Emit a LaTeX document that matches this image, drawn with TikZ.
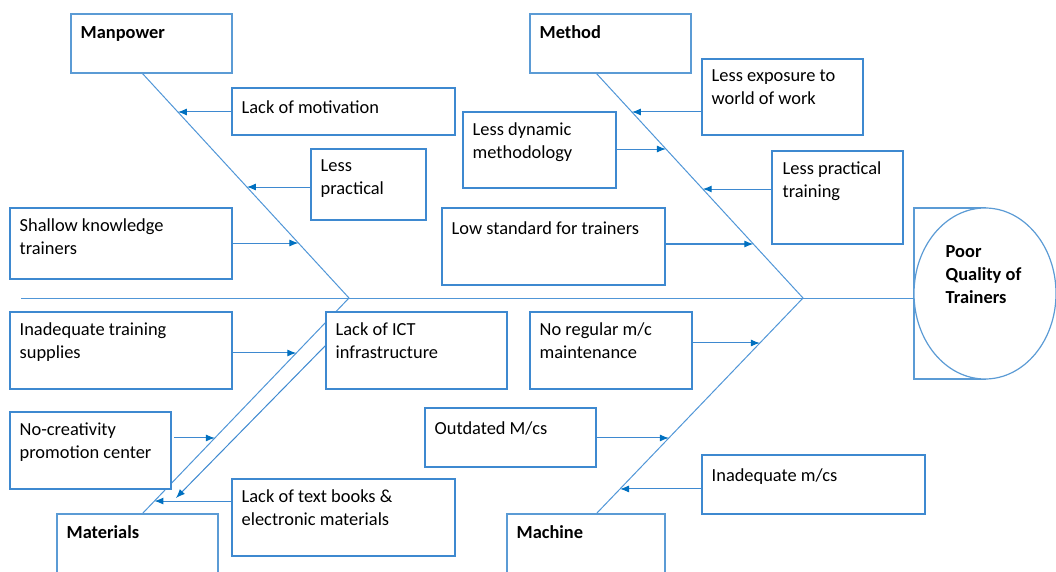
\documentclass[tikz,border=0pt]{standalone}
\usepackage{fontspec}
\setmainfont{Carlito}
\usetikzlibrary{arrows.meta,calc,shapes.geometric}
\definecolor{boxblue}{RGB}{91,155,213}
\definecolor{causeblue}{RGB}{62,137,208}
\definecolor{boneblue}{RGB}{80,150,215}
\definecolor{tipblue}{RGB}{0,112,192}

\begin{document}
\begin{tikzpicture}[x=1pt,y=-1pt,
  catbox/.style={draw=boxblue,line width=1.2pt,fill=white,rectangle,inner sep=0pt,outer sep=0pt,anchor=north west},
  causebox/.style={catbox,draw=causeblue},
  lbl/.style={anchor=north west,inner sep=0pt,align=left,font=\fontsize{18.4}{23}\selectfont,execute at begin node=\strut},
  catlbl/.style={lbl,font=\fontsize{18.4}{23}\selectfont\bfseries},
  bone/.style={draw=boneblue,line width=1pt},
  arr/.style={draw=causeblue,line width=1pt,-{Latex[length=9pt,width=7pt,color=tipblue]}},
]
\path[use as bounding box] (0,0) rectangle (1056,572);
\clip (0,0) rectangle (1056,572);

% skeleton: spine and the four category bones
\coordinate (spL) at (21,298);
\coordinate (mpA) at (142,73);
\coordinate (J1)  at (349,298);
\coordinate (matB) at (142,514);
\coordinate (mtA) at (596,73);
\coordinate (J2)  at (803,298);
\coordinate (mcB) at (596,514);

% head of the fish
\node[catbox,minimum width=71pt,minimum height=171pt] (headbox) at (914,208) {};
\draw[bone] (spL) -- (spL -| headbox.west);
\node[draw=boxblue,line width=1.2pt,fill=white,ellipse,inner sep=0pt,minimum width=142pt,minimum height=171pt] (head) at (985,293.5) {};
\node[catlbl] (headT) at (945.5,245) {Poor\\Quality of\\Trainers};

\draw[bone] (mpA) -- (J1) -- (matB);
\draw[bone] (mtA) -- (J2) -- (mcB);

% category boxes
\node[catbox,minimum width=161pt,minimum height=59pt] (manpower) at (71,14) {};
\node[catbox,minimum width=161pt,minimum height=90pt] (materials) at (57,514) {};
\node[catbox,minimum width=161pt,minimum height=59pt] (method) at (530,14) {};
\node[catbox,minimum width=158pt,minimum height=90pt] (machine) at (507,514) {};
\node[catlbl] (manpowerT) at ([shift={(9.5,8.2)}]manpower.north west) {Manpower};
\node[catlbl] (materialsT) at ([shift={(9.5,8.2)}]materials.north west) {Materials};
\node[catlbl] (methodT) at ([shift={(9.5,8.2)}]method.north west) {Method};
\node[catlbl] (machineT) at ([shift={(9.5,8.2)}]machine.north west) {Machine};

% cause boxes
\node[causebox,minimum width=223pt,minimum height=47pt] (motivation) at (232,88) {};
\node[causebox,minimum width=115pt,minimum height=71pt] (lesspract) at (311,149) {};
\node[causebox,minimum width=222pt,minimum height=71pt] (shallow) at (10,208) {};
\node[causebox,minimum width=222pt,minimum height=77pt] (supplies) at (10,312) {};
\node[causebox,minimum width=161pt,minimum height=77pt] (creativity) at (10,412) {};
\node[causebox,minimum width=223pt,minimum height=77pt] (textbooks) at (232,479) {};
\node[causebox,minimum width=181pt,minimum height=77pt] (ict) at (326,312) {};
\node[causebox,minimum width=161pt,minimum height=76pt] (exposure) at (702,59) {};
\node[causebox,minimum width=153pt,minimum height=76pt] (dynamic) at (463,112) {};
\node[causebox,minimum width=131pt,minimum height=93pt] (lptraining) at (772,151) {};
\node[causebox,minimum width=223pt,minimum height=77pt] (lowstd) at (442,208) {};
\node[causebox,minimum width=162pt,minimum height=77pt] (maint) at (530,312) {};
\node[causebox,minimum width=171pt,minimum height=59pt] (outdated) at (425,408) {};
\node[causebox,minimum width=223pt,minimum height=59pt] (inadequate) at (702,455) {};

\node[lbl] (motivationT) at ([shift={(9.5,9.4)}]motivation.north west) {Lack of motivation};
\node[lbl] (lesspractT) at ([shift={(9.5,10.4)}]lesspract.north west) {Less\\practical};
\node[lbl] (shallowT) at ([shift={(9.5,10.4)}]shallow.north west) {Shallow knowledge\\trainers};
\node[lbl] (suppliesT) at ([shift={(9.5,10.4)}]supplies.north west) {Inadequate training\\supplies};
\node[lbl] (creativityT) at ([shift={(9.5,10.4)}]creativity.north west) {No-creativity\\promotion center};
\node[lbl] (textbooksT) at ([shift={(9.5,10.4)}]textbooks.north west) {Lack of text books \&\\electronic materials};
\node[lbl] (ictT) at ([shift={(9.5,10.4)}]ict.north west) {Lack of ICT\\infrastructure};
\node[lbl] (exposureT) at ([shift={(9.5,10.4)}]exposure.north west) {Less exposure to\\world of work};
\node[lbl] (dynamicT) at ([shift={(9.5,10.4)}]dynamic.north west) {Less dynamic\\methodology};
\node[lbl] (lptrainingT) at ([shift={(10.5,10.4)}]lptraining.north west) {Less practical\\training};
\node[lbl] (lowstdT) at ([shift={(9.5,10.4)}]lowstd.north west) {Low standard for trainers};
\node[lbl] (maintT) at ([shift={(9.5,10.4)}]maint.north west) {No regular m/c\\maintenance};
\node[lbl] (outdatedT) at ([shift={(9.5,10.4)}]outdated.north west) {Outdated M/cs};
\node[lbl] (inadequateT) at ([shift={(9.5,10.4)}]inadequate.north west) {Inadequate m/cs};

% points where the cause arrows meet the bones
\coordinate (t1) at ($(mpA)!0.1733!(J1)$);
\coordinate (t2) at ($(mpA)!0.5067!(J1)$);
\coordinate (t3) at ($(mpA)!0.7556!(J1)$);
\coordinate (t4) at ($(J1)!0.2546!(matB)$);
\coordinate (t5) at ($(J1)!0.648!(matB)$);
\coordinate (t6) at ($(J1)!0.94!(matB)$);
\coordinate (t7) at ($(mtA)!0.1733!(J2)$);
\coordinate (t8) at ($(mtA)!0.3378!(J2)$);
\coordinate (t9) at ($(mtA)!0.5156!(J2)$);
\coordinate (t10) at ($(mtA)!0.76!(J2)$);
\coordinate (t11) at ($(J2)!0.2083!(mcB)$);
\coordinate (t12) at ($(J2)!0.648!(mcB)$);
\coordinate (t13) at ($(J2)!0.884!(mcB)$);
\coordinate (c5) at ([xshift=3pt]creativity.east);
\coordinate (ictS) at ([yshift=5.5pt]ict.west);
\coordinate (ictE) at (176,498);

% cause arrows
\draw[arr] (motivation.west |- t1) -- (t1);
\draw[arr] (lesspract.west |- t2) -- (t2);
\draw[arr] (shallow.east |- t3) -- (t3);
\draw[arr] (supplies.east |- t4) -- (t4);
\draw[arr] (c5 |- t5) -- (t5);
\draw[arr] (textbooks.west |- t6) -- (t6);
\draw[arr] (ictS) -- (ictE);
\draw[arr] (exposure.west |- t7) -- (t7);
\draw[arr] (dynamic.east |- t8) -- (t8);
\draw[arr] (lptraining.west |- t9) -- (t9);
\draw[arr] (lowstd.east |- t10) -- (t10);
\draw[arr] (maint.east |- t11) -- (t11);
\draw[arr] (outdated.east |- t12) -- (t12);
\draw[arr] (inadequate.west |- t13) -- (t13);
\end{tikzpicture}
\end{document}
